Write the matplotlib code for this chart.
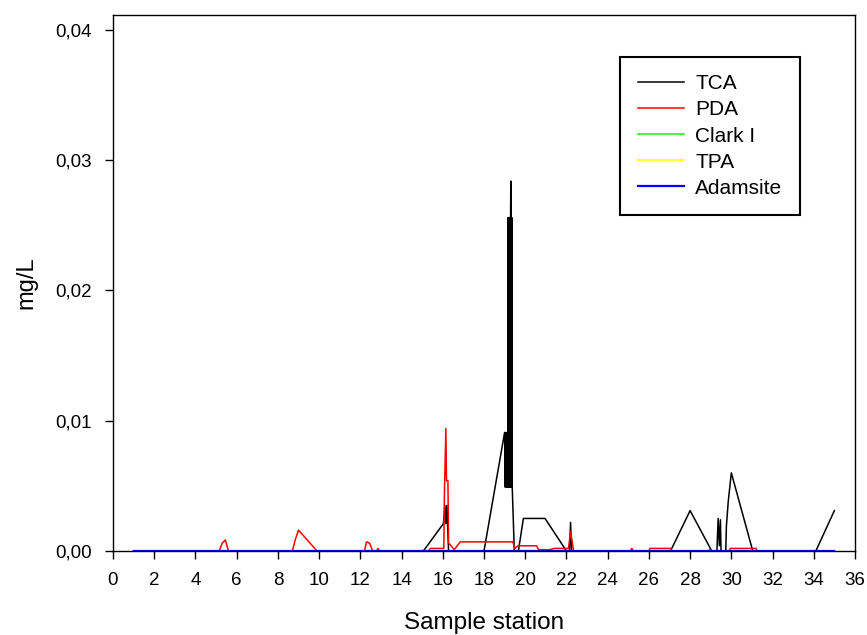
import matplotlib
matplotlib.use("Agg")
import matplotlib.pyplot as plt
from matplotlib.ticker import FuncFormatter, MultipleLocator

plt.rcParams['font.family'] = ['Liberation Sans', 'DejaVu Sans']

# Concentrations (mg/L) along the sampling transect
tca_station = [1, 15.06, 16.03, 16.1, 16.15, 16.2, 16.28, 18.0, 19.0, 19.03, 19.05,
               19.07, 19.09, 19.11, 19.13, 19.15, 19.17, 19.19, 19.21, 19.23, 19.25,
               19.27, 19.29, 19.3, 19.31, 19.33, 19.35, 19.37, 19.47, 19.67,
               19.91, 20.96, 22.0, 22.15, 22.2, 22.25, 27.05, 28.0, 29.05, 29.3,
               29.36, 29.42, 29.47, 29.5, 29.73, 29.76, 29.85, 30.0, 31.04, 34.1, 35.0]
tca_value = [0, 0, 0.0021, 0.0035, 0.0021, 0.0035, 0, 0, 0.0091, 0.0049, 0.0091,
             0.0049, 0.0091, 0.0049, 0.0091, 0.0049, 0.0256, 0.0049, 0.0256, 0.0049, 0.0256,
             0.0049, 0.0256, 0.0284, 0.0256, 0.0049, 0.0256, 0.0049, 0, 0,
             0.0025, 0.0025, 0, 0, 0.0022, 0, 0, 0.0031, 0, 0,
             0.0025, 0.0004, 0.0024, 0, 0, 0.0019, 0.0038, 0.0060, 0, 0, 0.0031]

pda_station = [1, 5.15, 5.3, 5.45, 5.6, 8.7, 8.85, 9.0, 9.9, 12.2, 12.3, 12.45,
               12.6, 12.8, 12.85, 12.95, 15.3, 15.4, 16.05, 16.08, 16.15, 16.18,
               16.25, 16.28, 16.35, 16.55, 16.85, 17.2, 18.6, 19.4, 19.5, 19.65,
               20.55, 20.65, 21.2, 21.4, 22.1, 22.2, 22.27, 22.35, 25.1, 25.17,
               25.25, 26.0, 26.05, 27.05, 27.1, 28.9, 28.95, 29.05, 29.9, 29.95,
               31.2, 31.25, 35]
pda_value = [0, 0, 0.0006, 0.00085, 0, 0, 0.0009, 0.0016, 0, 0, 0.0007, 0.0006,
             0, 0, 0.0002, 0, 0, 0.0002, 0.0002, 0.0045, 0.0094, 0.0054,
             0.0054, 0.0006, 0.0005, 0.0001, 0.0007, 0.0007, 0.0007, 0.0007, 0.0002, 0.0004,
             0.0004, 0.0001, 0.0001, 0.0002, 0.0002, 0.0015, 0.0008, 0, 0, 0.0002,
             0, 0, 0.0002, 0.0002, 0, 0, 0.0001, 0, 0, 0.0002,
             0.0002, 0, 0]

clark_station = [1, 35]
clark_value = [0, 0]

tpa_station = [1, 35]
tpa_value = [0, 0]

adamsite_station = [1, 35]
adamsite_value = [0, 0]

fig = plt.figure(figsize=(8.67, 6.35), dpi=100)
ax = fig.add_axes([113 / 867, 1 - 551 / 635, 742 / 867, 536 / 635])

ax.plot(tca_station, tca_value, color='black', lw=1.1, label='TCA')
ax.plot(pda_station, pda_value, color='#ff0000', lw=1.1, label='PDA')
ax.plot(clark_station, clark_value, color='#00ff00', lw=1.1, label='Clark I')
ax.plot(tpa_station, tpa_value, color='#ffff00', lw=1.1, label='TPA')
ax.plot(adamsite_station, adamsite_value, color='#0000ff', lw=1.6, label='Adamsite')

ax.set_xlim(0, 36)
ax.set_ylim(0, 0.04115)
ax.xaxis.set_major_locator(MultipleLocator(2))
ax.yaxis.set_major_locator(MultipleLocator(0.01))
ax.yaxis.set_major_formatter(FuncFormatter(lambda v, p: f"{v:.2f}".replace('.', ',')))

ax.tick_params(direction='out', length=6, width=1, labelsize=13.5, pad=9,
               top=False, right=False)
for s in ax.spines.values():
    s.set_linewidth(1.0)
    s.set_color('black')

ax.set_xlabel('Sample station', fontsize=17.5, labelpad=17)
ax.set_ylabel('mg/L', fontsize=17, labelpad=13)

leg = ax.legend(loc='upper left', bbox_to_anchor=(620 / 867, 1 - 56.7 / 635),
                bbox_transform=fig.transFigure, fontsize=15, frameon=True,
                fancybox=False, shadow=False, framealpha=1, edgecolor='black',
                handlelength=2.2, handletextpad=0.55, labelspacing=0.34,
                borderpad=0.85, borderaxespad=0)
leg.get_frame().set_linewidth(1.5)

fig.savefig('out.png', dpi=100)
